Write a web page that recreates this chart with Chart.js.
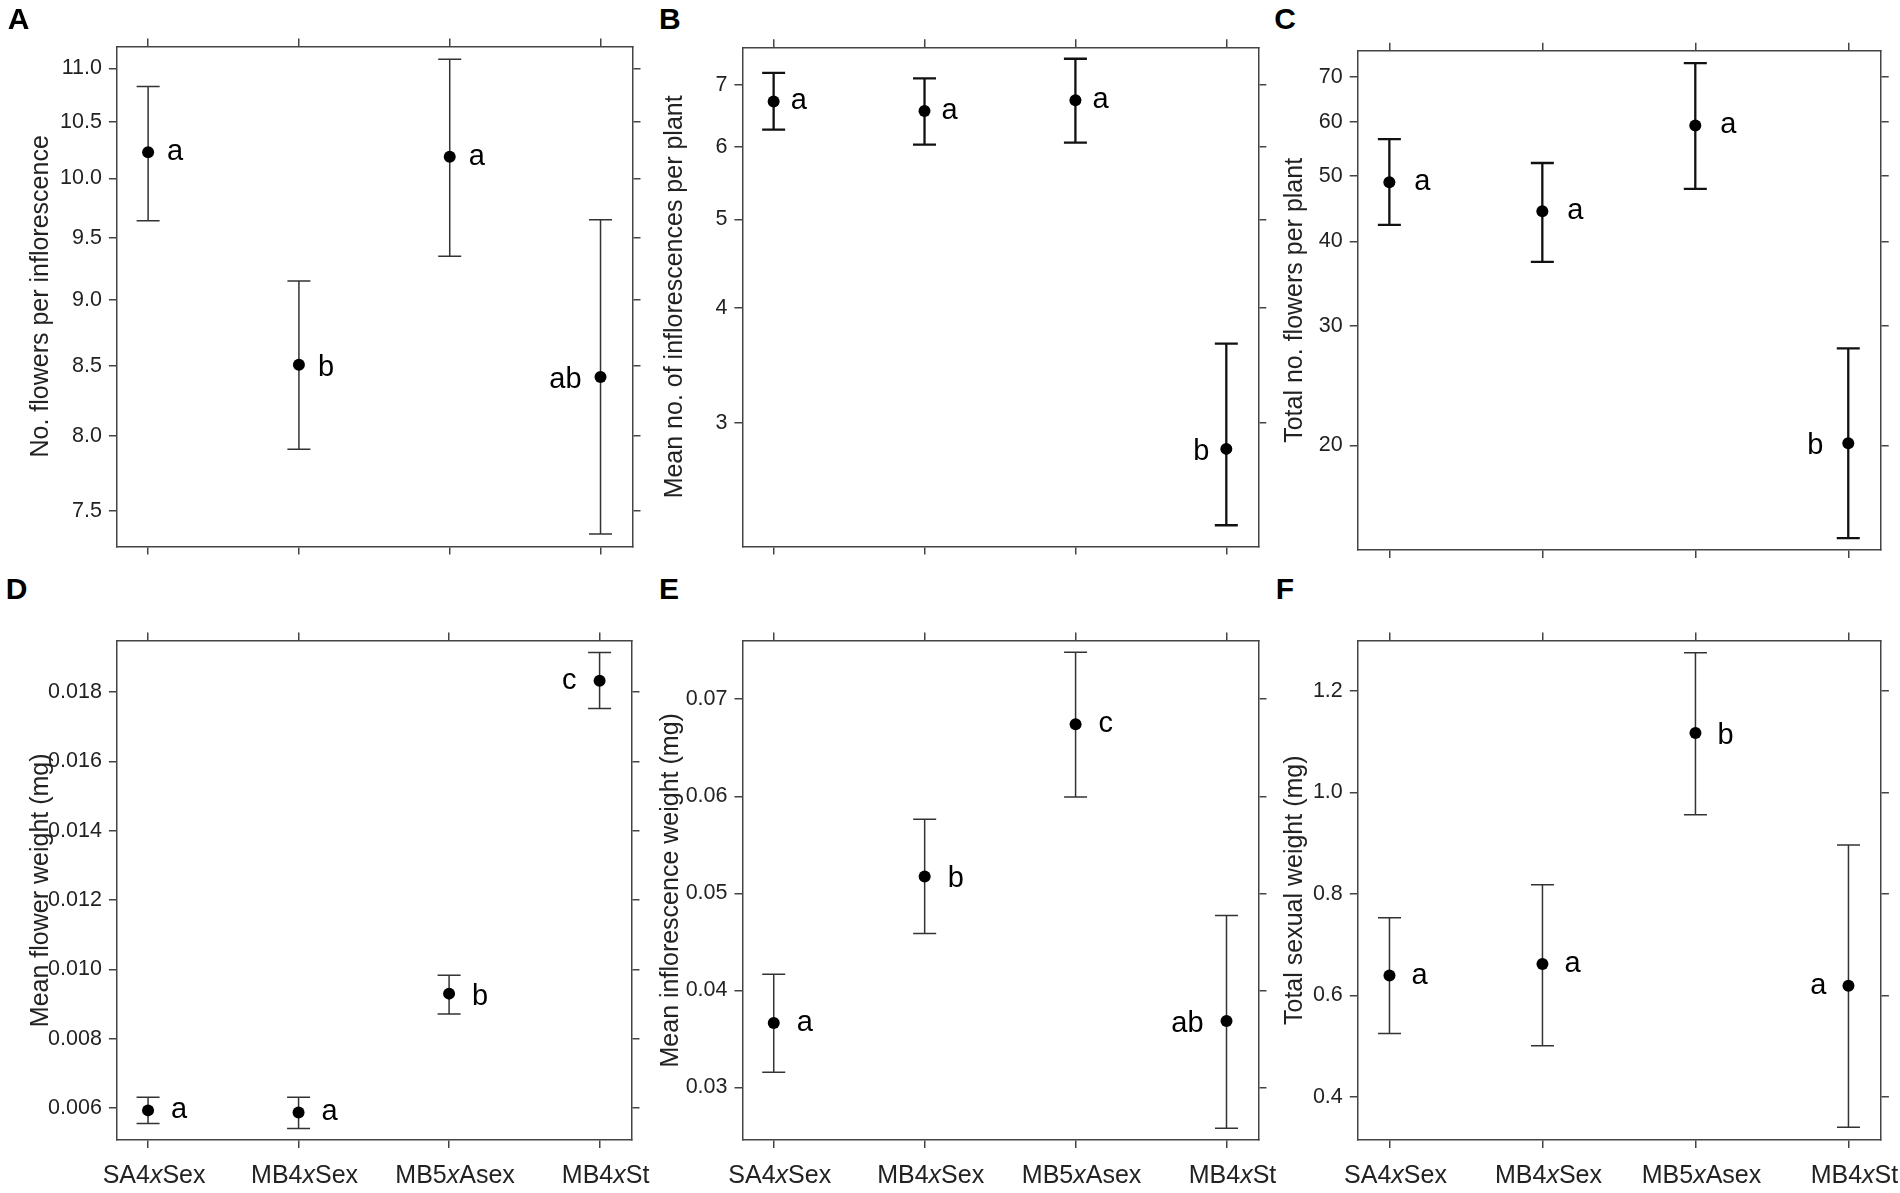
<!DOCTYPE html>
<html><head><meta charset="utf-8">
<script src="https://cdn.jsdelivr.net/npm/chart.js@4.4.1/dist/chart.umd.min.js"></script>
<style>
html,body{margin:0;padding:0;background:#fff;}
body{width:1900px;height:1193px;position:relative;overflow:hidden;font-family:'Liberation Sans',Arial,sans-serif;}
canvas{position:absolute;}
.pl{position:absolute;font-weight:bold;font-size:30px;line-height:30px;transform:translateX(-50%);color:#000;font-family:'Liberation Sans',Arial,sans-serif;}
</style></head><body>
<script>
// ---------------- data ----------------
const groups = ['SA4xSex', 'MB4xSex', 'MB5xAsex', 'MB4xSt'];
const labelSide = ['right', 'right', 'right', 'left'];

// A: No. flowers per inflorescence (log axis)
const flowersInflMean = [10.23, 8.51, 10.19, 8.42];
const flowersInflLow  = [9.64, 7.91, 9.35, 7.35];
const flowersInflHigh = [10.83, 9.15, 11.09, 9.65];
const flowersInflLetters = ['a', 'b', 'a', 'ab'];
const flowersInflTicks = [7.5, 8.0, 8.5, 9.0, 9.5, 10.0, 10.5, 11.0];

// B: Mean no. of inflorescences per plant (log axis)
const inflPlantMean = [6.72, 6.56, 6.74, 2.81];
const inflPlantLow  = [6.26, 6.03, 6.06, 2.32];
const inflPlantHigh = [7.22, 7.12, 7.48, 3.66];
const inflPlantLetters = ['a', 'a', 'a', 'b'];
const inflPlantTicks = [3, 4, 5, 6, 7];

// C: Total no. flowers per plant (log axis)
const totalFlowersMean = [48.9, 44.3, 59.3, 20.15];
const totalFlowersLow  = [42.3, 37.3, 47.8, 14.6];
const totalFlowersHigh = [56.6, 52.2, 73.3, 27.8];
const totalFlowersLetters = ['a', 'a', 'a', 'b'];
const totalFlowersTicks = [20, 30, 40, 50, 60, 70];

// D: Mean flower weight (mg)
const flowerWeightMean = [0.00593, 0.00587, 0.00930, 0.01833];
const flowerWeightLow  = [0.00555, 0.00541, 0.00871, 0.01753];
const flowerWeightHigh = [0.00631, 0.00631, 0.00983, 0.01915];
const flowerWeightLetters = ['a', 'a', 'b', 'c'];
const flowerWeightTicks = [0.006, 0.008, 0.010, 0.012, 0.014, 0.016, 0.018];

// E: Mean inflorescence weight (mg)
const inflWeightMean = [0.03665, 0.05175, 0.06742, 0.03685];
const inflWeightLow  = [0.03157, 0.04587, 0.05993, 0.02581];
const inflWeightHigh = [0.04168, 0.05763, 0.07483, 0.04772];
const inflWeightLetters = ['a', 'b', 'c', 'ab'];
const inflWeightTicks = [0.03, 0.04, 0.05, 0.06, 0.07];

// F: Total sexual weight (mg)
const sexualWeightMean = [0.639, 0.662, 1.117, 0.619];
const sexualWeightLow  = [0.525, 0.501, 0.956, 0.340];
const sexualWeightHigh = [0.753, 0.818, 1.275, 0.896];
const sexualWeightLetters = ['a', 'a', 'b', 'a'];
const sexualWeightTicks = [0.4, 0.6, 0.8, 1.0, 1.2];

// ---------------- panels ----------------
const panels = [
  {tag:'A', title:'No. flowers per inflorescence', type:'logarithmic', mean:flowersInflMean, lo:flowersInflLow, hi:flowersInflHigh, letters:flowersInflLetters, ticks:flowersInflTicks, dec:1, ymin:7.271, ymax:11.213,
   frame:{l:116.9,t:46.4,r:632.5,b:546.4}, titleX:41.5, tagX:18.7, tagBase:28.7, gap:19, errW:1.5, errC:'#333', xlabels:false},
  {tag:'B', title:'Mean no. of inflorescences per plant', type:'logarithmic', mean:inflPlantMean, lo:inflPlantLow, hi:inflPlantHigh, letters:inflPlantLetters, ticks:inflPlantTicks, dec:0, ymin:2.246, ymax:7.698,
   frame:{l:742.4,t:47.3,r:1258.3,b:546.4}, titleX:675.1, tagX:669.8, tagBase:28.9, gap:17, errW:2.3, errC:'#111', xlabels:false},
  {tag:'C', title:'Total no. flowers per plant', type:'logarithmic', mean:totalFlowersMean, lo:totalFlowersLow, hi:totalFlowersHigh, letters:totalFlowersLetters, ticks:totalFlowersTicks, dec:0, ymin:14.02, ymax:76.44,
   frame:{l:1357.7,t:50.7,r:1880.7,b:550}, titleX:1294.8, tagX:1285, tagBase:28.6, gap:25, errW:2.3, errC:'#111', xlabels:false},
  {tag:'D', title:'Mean flower weight (mg)', type:'linear', mean:flowerWeightMean, lo:flowerWeightLow, hi:flowerWeightHigh, letters:flowerWeightLetters, ticks:flowerWeightTicks, dec:3, ymin:0.005075, ymax:0.01949,
   frame:{l:116.9,t:640.6,r:631.5,b:1140}, titleX:41.5, tagX:16.5, tagBase:598, gap:23, errW:1.5, errC:'#333', xlabels:true},
  {tag:'E', title:'Mean inflorescence weight (mg)', type:'linear', mean:inflWeightMean, lo:inflWeightLow, hi:inflWeightHigh, letters:inflWeightLetters, ticks:inflWeightTicks, dec:2, ymin:0.0246, ymax:0.07604,
   frame:{l:742.5,t:640.6,r:1258.5,b:1140}, titleX:671, tagX:669, tagBase:598, gap:23, errW:1.5, errC:'#333', xlabels:true},
  {tag:'F', title:'Total sexual weight (mg)', type:'linear', mean:sexualWeightMean, lo:sexualWeightLow, hi:sexualWeightHigh, letters:sexualWeightLetters, ticks:sexualWeightTicks, dec:1, ymin:0.3151, ymax:1.2991,
   frame:{l:1357.8,t:640.5,r:1880.9,b:1140}, titleX:1295.6, tagX:1285, tagBase:598, gap:22, errW:1.5, errC:'#333', xlabels:true}
];

const NUM_FONT = "'Liberation Sans',Arial,sans-serif";
const TXT_FONT = "'Liberation Sans',Arial,sans-serif";
const AXIS_COLOR = '#444';

const errPlugin = {
  id: 'errbars',
  beforeDatasetsDraw(chart, args, o) {
    const ds = chart.data.datasets[0];
    const xs = chart.scales.x, ys = chart.scales.y, ctx = chart.ctx;
    ctx.save();
    ctx.strokeStyle = o.color; ctx.lineWidth = o.width; ctx.lineCap = 'butt';
    ds.data.forEach((p, i) => {
      const px = xs.getPixelForValue(p.x);
      const yl = ys.getPixelForValue(o.lo[i]), yh = ys.getPixelForValue(o.hi[i]);
      ctx.beginPath();
      ctx.moveTo(px, yl); ctx.lineTo(px, yh);
      ctx.moveTo(px - o.cap, yl); ctx.lineTo(px + o.cap, yl);
      ctx.moveTo(px - o.cap, yh); ctx.lineTo(px + o.cap, yh);
      ctx.stroke();
    });
    ctx.restore();
  },
  afterDatasetsDraw(chart, args, o) {
    const ds = chart.data.datasets[0];
    const xs = chart.scales.x, ys = chart.scales.y, ctx = chart.ctx;
    ctx.save();
    ctx.fillStyle = '#000';
    ctx.font = '29px ' + TXT_FONT;
    ctx.textBaseline = 'alphabetic';
    ds.data.forEach((p, i) => {
      const px = xs.getPixelForValue(p.x), py = ys.getPixelForValue(p.y);
      const t = o.letters[i];
      const m = ctx.measureText(t);
      const yy = py + m.actualBoundingBoxAscent / 2;
      if (labelSide[i] === 'left') { ctx.textAlign = 'right'; ctx.fillText(t, px - o.gap, yy); }
      else { ctx.textAlign = 'left'; ctx.fillText(t, px + o.gap, yy); }
    });
    ctx.restore();
  },
  afterDraw(chart, args, o) {
    if (!o.xlabels) return;
    const xs = chart.scales.x, ctx = chart.ctx;
    const yy = chart.chartArea.bottom + 36;
    ctx.save();
    ctx.fillStyle = '#222';
    ctx.textBaseline = 'middle';
    ctx.textAlign = 'left';
    groups.forEach((g, i) => {
      const mm = g.match(/^(.*\d)x(.*)$/);
      const parts = mm ? [[mm[1], ''], ['x', 'italic '], [mm[2], '']] : [[g, '']];
      let total = 0;
      parts.forEach(pt => { ctx.font = pt[1] + '25px ' + TXT_FONT; pt.push(ctx.measureText(pt[0]).width); total += pt[2]; });
      let x = xs.getPixelForValue(i) - total / 2 + 6;
      parts.forEach(pt => { ctx.font = pt[1] + '25px ' + TXT_FONT; ctx.fillText(pt[0], x, yy); x += pt[2]; });
    });
    ctx.restore();
  }
};

const X_MIN = -0.207, X_MAX = 3.212;
const catIdx = groups.map((g, i) => i);

panels.forEach(P => {
  const f = P.frame;
  const cx0 = P.titleX - 15, cy0 = f.t - 12;
  const extraRight = P.xlabels ? Math.min(40, 1900 - (f.r + 12)) : 0;
  const cx1 = f.r + 12 + extraRight;
  const extraBottom = P.xlabels ? 52 : 0;
  const cy1 = f.b + 12 + extraBottom;
  const L = Math.floor(cx0), T = Math.floor(cy0);
  const W = Math.ceil(cx1) - L, H = Math.ceil(cy1) - T;
  const padL = cx0 - L, padT = cy0 - T;
  const padR = W - (f.r + 12 - L), padB = H - (f.b + 12 - T);
  const yW = f.l - cx0;

  const cv = document.createElement('canvas');
  cv.width = W; cv.height = H;
  cv.style.left = L + 'px'; cv.style.top = T + 'px';
  cv.style.width = W + 'px'; cv.style.height = H + 'px';
  document.body.appendChild(cv);

  const tag = document.createElement('div');
  tag.className = 'pl'; tag.textContent = P.tag;
  tag.style.left = P.tagX + 'px';
  tag.style.top = (P.tagBase - 24.5) + 'px';
  document.body.appendChild(tag);

  const setTicks = vals => (s => { s.ticks = vals.map(v => ({value: v})); });
  const gridOpt = {drawOnChartArea:false, drawTicks:true, tickLength:8, color:AXIS_COLOR, lineWidth:1.5, tickWidth:1.5, tickColor:AXIS_COLOR};
  const borderOpt = {display:true, color:AXIS_COLOR, width:1.5};
  const fixH = s => { s.height = 12; s.paddingLeft = 0; s.paddingRight = 0; s.paddingTop = 0; s.paddingBottom = 0; };
  const fixW = w => (s => { s.width = w; s.paddingTop = 0; s.paddingBottom = 0; s.paddingLeft = 0; s.paddingRight = 0; });

  new Chart(cv, {
    type: 'scatter',
    data: {
      datasets: [{
        data: P.mean.map((v, i) => ({x: catIdx[i], y: v})),
        pointRadius: 6, pointHoverRadius: 6,
        backgroundColor: '#000', borderColor: '#000', borderWidth: 0, showLine: false
      }]
    },
    options: {
      responsive: false, animation: false, devicePixelRatio: 1,
      layout: {padding: {left: padL, top: padT, right: padR, bottom: padB}},
      plugins: {
        legend: {display: false}, tooltip: {enabled: false},
        errbars: {lo: P.lo, hi: P.hi, letters: P.letters, cap: 11.5, width: P.errW, color: P.errC, gap: P.gap, xlabels: P.xlabels}
      },
      scales: {
        x: {type:'linear', position:'bottom', min:X_MIN, max:X_MAX, afterBuildTicks:setTicks(catIdx),
            ticks:{display:false}, grid:gridOpt, border:borderOpt, afterFit:fixH},
        x2: {type:'linear', position:'top', min:X_MIN, max:X_MAX, afterBuildTicks:setTicks(catIdx),
            ticks:{display:false}, grid:gridOpt, border:borderOpt, afterFit:fixH},
        y: {type:P.type, position:'left', min:P.ymin, max:P.ymax, afterBuildTicks:setTicks(P.ticks),
            ticks:{display:true, autoSkip:false, padding:7, color:'#222', font:{size:21.5, family:NUM_FONT}, callback:v => Number(v).toFixed(P.dec)},
            title:{display:true, text:P.title, color:'#222', font:{size:25, family:TXT_FONT}, padding:0},
            grid:gridOpt, border:borderOpt, afterFit:fixW(yW)},
        y2: {type:P.type, position:'right', min:P.ymin, max:P.ymax, afterBuildTicks:setTicks(P.ticks),
            ticks:{display:false}, grid:gridOpt, border:borderOpt, afterFit:fixW(12)}
      }
    },
    plugins: [errPlugin]
  });
});
</script>
</body></html>
